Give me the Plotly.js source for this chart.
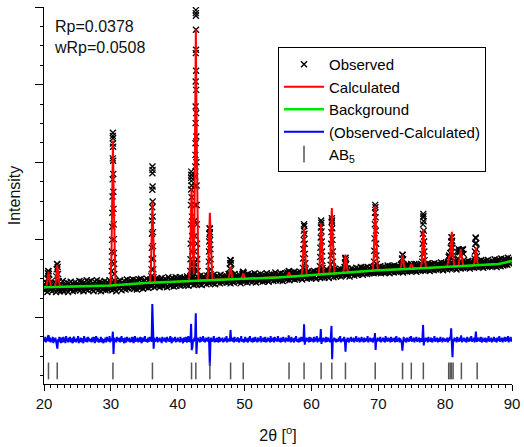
<!DOCTYPE html>
<html>
<head>
<meta charset="utf-8">
<script src="https://cdn.plot.ly/plotly-3.0.1.min.js"></script>
<style>html,body{margin:0;padding:0;background:#fff;}#chart{width:524px;height:447px;}</style>
</head>
<body>
<div id="chart"></div>
<script>
// ---- Observed pattern: background band, 0.1° grid from 20° to 90°
const obsGridStart = 20;
const obsGridStep = 0.1;
const obsBaseY = [
1420,1350,1400,1450,1370,1330,1410,1380,1440,1360,
1430,1370,1340,1420,1400,1360,1450,1390,1330,1420,
1410,1350,1460,1380,1340,1430,1390,1350,1470,1370,
1340,1420,1400,1360,1450,1380,1330,1440,1410,1360,
1460,1370,1400,1340,1430,1390,1450,1350,1420,1380,
1440,1360,1410,1470,1350,1400,1460,1370,1430,1340,
1450,1390,1420,1360,1480,1400,1350,1460,1420,1380,
1470,1400,1360,1440,1340,1390,1460,1420,1370,1480,
1430,1350,1410,1460,1380,1340,1450,1400,1360,1440,
1390,1470,1350,1420,1380,1450,1360,1410,1480,1370,
1440,1380,1350,1460,1400,1370,1470,1420,1340,1450,
1390,1460,1420,1370,1480,1400,1350,1450,1430,1380,
1470,1400,1360,1440,1490,1390,1450,1370,1420,1480,
1400,1460,1380,1490,1420,1370,1450,1400,1480,1360,
1460,1410,1490,1380,1440,1500,1400,1450,1370,1470,
1410,1480,1390,1450,1500,1420,1380,1470,1430,1490,
1400,1460,1510,1420,1480,1390,1450,1500,1410,1470,
1500,1420,1460,1390,1480,1430,1510,1410,1470,1400,
1440,1500,1420,1480,1390,1460,1520,1430,1490,1410,
1480,1420,1510,1440,1400,1490,1450,1520,1410,1470,
1430,1500,1450,1520,1410,1480,1440,1510,1470,1420,
1510,1440,1490,1420,1530,1460,1410,1500,1450,1520,
1440,1500,1460,1530,1420,1490,1450,1510,1430,1480,
1520,1450,1500,1430,1540,1470,1420,1510,1460,1530,
1450,1510,1470,1430,1540,1480,1520,1440,1500,1460,
1530,1460,1510,1440,1550,1480,1430,1520,1470,1540,
1460,1520,1480,1440,1550,1490,1530,1450,1510,1470,
1540,1470,1510,1450,1530,1490,1560,1460,1520,1440,
1480,1540,1460,1520,1450,1560,1490,1530,1470,1510,
1530,1460,1550,1490,1440,1520,1480,1560,1470,1510,
1460,1540,1490,1520,1450,1560,1480,1530,1470,1550,
1490,1550,1460,1530,1480,1570,1500,1450,1540,1510,
1550,1480,1520,1470,1560,1500,1540,1460,1530,1490,
1470,1540,1500,1570,1480,1520,1460,1550,1510,1490,
1560,1490,1530,1470,1550,1510,1580,1480,1540,1500,
1490,1560,1520,1480,1570,1510,1540,1470,1560,1530,
1500,1570,1530,1490,1580,1520,1560,1480,1550,1510,
1580,1500,1560,1520,1590,1490,1550,1530,1570,1510,
1500,1570,1540,1590,1510,1560,1490,1580,1530,1550,
1590,1520,1570,1500,1580,1540,1600,1510,1560,1530,
1510,1590,1550,1520,1600,1530,1570,1500,1580,1560,
1600,1530,1580,1510,1610,1550,1520,1590,1540,1570,
1520,1600,1560,1620,1530,1580,1510,1600,1550,1590,
1610,1540,1590,1520,1620,1560,1600,1530,1580,1550,
1540,1610,1570,1630,1530,1590,1550,1620,1560,1600,
1620,1550,1600,1540,1630,1570,1610,1530,1590,1560,
1560,1630,1580,1610,1540,1620,1570,1640,1550,1600,
1630,1560,1610,1580,1650,1570,1620,1550,1640,1590,
1570,1640,1600,1560,1650,1590,1630,1570,1620,1580,
1650,1580,1620,1570,1660,1600,1640,1580,1630,1610,
1580,1650,1600,1660,1570,1630,1590,1650,1580,1620,
1650,1580,1630,1600,1670,1590,1640,1570,1660,1610,
1590,1660,1620,1580,1670,1610,1650,1590,1640,1600,
1660,1590,1640,1610,1680,1600,1650,1580,1670,1620,
1600,1670,1620,1590,1680,1630,1660,1600,1650,1610,
1670,1600,1650,1610,1690,1620,1660,1590,1680,1630,
1610,1680,1630,1600,1690,1640,1670,1610,1660,1620,
1680,1610,1660,1620,1700,1630,1670,1600,1690,1640,
1620,1690,1640,1610,1700,1650,1680,1620,1670,1630,
1690,1620,1670,1630,1710,1640,1680,1610,1700,1650,
1630,1700,1650,1620,1710,1660,1690,1630,1680,1640,
1700,1630,1680,1640,1720,1650,1690,1620,1710,1660,
1640,1710,1660,1630,1720,1670,1700,1640,1690,1650,
1710,1640,1690,1650,1730,1660,1700,1630,1720,1670,
1650,1720,1670,1640,1730,1680,1710,1650,1700,1660,
1720,1650,1700,1660,1740,1670,1710,1640,1730,1680,
1660,1730,1680,1650,1740,1690,1720,1660,1710,1670,
1730,1660,1710,1670,1750,1680,1720,1650,1740,1690,
1670,1740,1690,1660,1760,1700,1730,1670,1750,1680,
1750,1690,1730,1680,1770,1710,1740,1690,1760,1720,
1730
];

// ---- Observed points on the Bragg peaks
const obsPeakX = [
20.47,20.53,20.59,20.63,20.69,20.73,20.79,20.85,
21.78,21.84,21.90,21.94,22.00,22.04,22.10,22.16,
30.13,30.15,30.17,30.19,30.21,30.23,30.25,30.27,30.29,30.30,30.305,30.31,30.32,30.33,30.34,30.36,30.38,30.40,30.42,30.44,30.46,30.48,30.51,
36.05,36.08,36.11,36.13,36.15,36.17,36.19,36.20,36.21,36.22,36.23,36.24,36.25,36.27,36.29,36.31,36.33,36.36,36.39,
41.88,41.91,41.94,41.97,41.99,42.01,42.02,42.03,42.04,42.05,42.07,42.09,42.12,42.15,42.18,42.21,42.25,42.30,42.36,42.42,
42.50,42.53,42.56,42.58,42.60,42.62,42.63,42.64,42.65,42.66,42.67,42.68,42.69,42.70,42.71,42.715,42.72,42.73,42.74,42.75,42.76,42.77,42.78,42.80,42.82,42.84,42.86,42.89,42.92,42.96,
44.62,44.65,44.68,44.71,44.74,44.77,44.80,44.83,44.86,44.89,44.92,44.96,
47.74,47.79,47.84,47.88,47.92,47.96,48.01,48.06,
49.68,49.75,49.80,49.86,49.92,
56.55,56.62,56.68,56.75,
58.72,58.76,58.80,58.84,58.87,58.90,58.93,58.96,59.00,59.04,59.08,59.12,
61.27,61.31,61.35,61.39,61.42,61.45,61.48,61.51,61.55,61.59,61.63,61.67,
62.87,62.91,62.95,62.99,63.02,63.05,63.08,63.11,63.15,63.19,63.23,63.27,
64.95,65.00,65.05,65.10,65.15,65.20,65.26,
69.36,69.40,69.44,69.48,69.51,69.54,69.57,69.60,69.64,69.68,69.72,69.76,
73.48,73.54,73.60,73.66,73.72,73.78,
74.85,74.92,74.99,75.05,
76.56,76.60,76.64,76.67,76.70,76.72,76.74,76.76,76.78,76.81,76.85,76.89,76.93,
80.45,80.52,80.60,80.68,80.76,80.84,80.90,80.95,81.00,81.05,81.10,81.16,81.22,
81.90,81.97,82.03,82.10,82.18,82.25,82.32,82.40,82.48,82.56,82.63,82.69,82.75,82.82,
84.40,84.45,84.50,84.55,84.60,84.65,84.70,84.76,84.82
];
const obsPeakY = [
1440,1500,1570,1600,1595,1560,1490,1440,
1450,1530,1620,1690,1685,1650,1560,1470,
1600,1720,1850,2000,2170,2350,2560,2780,3050,3240,3380,3340,3310,3200,3020,2850,2620,2400,2200,2010,1830,1690,1560,
1530,1620,1750,1900,2080,2250,2420,2645,2859,2945,2902,2687,2494,2300,2100,1920,1760,1620,1520,
1600,1750,1950,2200,2450,2650,2800,2880,2840,2760,2700,2550,2300,2050,1850,1700,1600,1580,1620,1660,
1700,1850,2050,2250,2450,2687,2816,2945,3095,3246,3504,3718,4040,4406,4921,4960,4887,4706,4449,4179,3933,3633,3331,3000,2700,2450,2200,1950,1750,1600,
1600,1720,1850,1980,2080,2151,2140,2100,2000,1880,1750,1620,
1560,1630,1700,1742,1735,1700,1620,1550,
1550,1580,1590,1575,1545,
1570,1600,1595,1565,
1640,1760,1880,2000,2120,2202,2180,2080,1950,1820,1700,1620,
1660,1780,1900,2030,2160,2249,2220,2110,1980,1850,1730,1640,
1680,1800,1950,2100,2230,2280,2250,2150,2000,1850,1720,1640,
1650,1710,1760,1770,1740,1690,1630,
1720,1860,2020,2200,2350,2451,2420,2290,2120,1950,1800,1690,
1690,1760,1810,1805,1750,1680,
1670,1690,1685,1660,
1720,1820,1950,2080,2200,2290,2335,2310,2240,2120,1980,1850,1740,
1720,1780,1800,1790,1830,1900,1980,2035,2030,1990,1900,1800,1730,
1760,1840,1880,1860,1840,1850,1870,1860,1860,1870,1880,1875,1820,1740,
1760,1850,1950,2030,2020,1960,1880,1790,1720
];

// ---- Calculated profile
const calcX = [
20.00,20.29,20.45,20.55,20.67,20.79,20.89,21.05,
21.60,21.76,21.86,21.98,22.10,22.20,22.36,
25.00,29.93,30.09,30.19,30.31,30.43,30.53,30.69,
33.00,35.84,36.00,36.10,36.22,36.34,36.44,36.60,
39.00,41.69,41.85,41.95,42.07,42.19,42.29,42.39,42.49,42.59,42.71,42.83,42.93,43.09,
44.43,44.59,44.69,44.81,44.93,45.03,45.19,
47.53,47.69,47.79,47.91,48.03,48.13,48.29,
49.42,49.58,49.68,49.80,49.92,50.02,50.18,
53.00,56.27,56.43,56.53,56.65,56.77,56.87,57.03,
58.52,58.68,58.78,58.90,59.02,59.12,59.28,
61.07,61.23,61.33,61.45,61.57,61.67,61.83,
62.67,62.83,62.93,63.05,63.17,63.27,63.43,
64.71,64.87,64.97,65.09,65.21,65.31,65.47,
67.00,69.16,69.32,69.42,69.54,69.66,69.76,69.92,
71.00,73.25,73.41,73.51,73.63,73.75,73.85,74.01,
74.56,74.72,74.82,74.94,75.06,75.16,75.32,
76.36,76.52,76.62,76.74,76.86,76.96,77.12,
79.00,80.25,80.42,80.52,80.62,80.74,80.84,80.92,81.00,81.10,81.20,81.36,
82.00,82.15,82.26,82.35,82.44,82.56,82.72,
84.22,84.38,84.48,84.60,84.72,84.82,84.98,
86.00,87.00,88.00,89.00,90.00
];
const calcY = [
1390,1391,1431,1510,1590,1510,1431,1392,
1394,1451,1566,1680,1566,1451,1395,
1400,1410,1786,2533,3280,2533,1786,1414,
1430,1447,1655,2075,2495,2075,1655,1450,
1458,1466,1709,2187,2665,2187,1709,1560,2120,3415,4710,3415,2120,1477,
1484,1657,2004,2350,2004,1657,1488,
1495,1526,1591,1655,1591,1526,1497,
1500,1513,1542,1570,1542,1513,1501,
1509,1524,1536,1558,1580,1558,1536,1528,
1537,1660,1905,2150,1905,1660,1541,
1552,1686,1951,2215,1951,1686,1557,
1561,1732,2071,2410,2071,1732,1566,
1573,1623,1716,1810,1716,1623,1578,
1589,1604,1773,2106,2440,2106,1773,1610,
1614,1623,1661,1736,1810,1736,1661,1626,
1628,1642,1666,1690,1666,1642,1631,
1635,1736,1933,2130,1933,1736,1638,
1646,1652,1700,1770,1800,1780,1830,1980,2105,1900,1740,1656,
1660,1730,1830,1880,1840,1740,1664,
1666,1712,1807,1900,1807,1712,1670,
1675,1680,1690,1708,1730
];

// ---- Background
const bgX = [20,25,30,35,40,45,50,55,60,65,70,75,80,85,88,89,90];
const bgY = [1390,1400,1412,1445,1465,1485,1500,1515,1545,1575,1610,1630,1650,1670,1690,1708,1730];

// ---- Difference (Observed - Calculated), offset, 0.1° grid
const diffY = [
730,690,750,680,720,700,760,770,690,740,
680,720,700,750,670,730,690,740,700,650,
600,720,690,750,700,670,740,710,680,750,
690,730,670,760,700,720,680,740,690,750,
680,730,700,670,740,750,690,720,680,730,
700,760,670,720,690,740,680,730,700,670,
760,700,720,690,740,680,750,700,730,690,
720,680,740,690,750,700,670,730,760,690,
740,700,680,720,690,750,680,730,700,670,
720,690,740,680,750,700,730,690,760,680,
730,700,720,818,531,740,690,720,680,750,
700,730,690,740,680,720,760,690,730,700,
670,740,710,680,750,700,730,690,740,680,
720,690,750,700,670,730,760,690,720,700,
740,680,730,690,750,700,670,740,710,690,
730,760,690,720,700,680,740,690,750,700,
720,690,1175,640,600,740,690,720,700,750,
680,730,700,740,690,720,670,750,700,730,
690,740,710,680,750,700,730,690,720,760,
700,670,740,690,730,700,750,680,720,690,
740,700,720,680,750,690,730,700,670,740,
710,690,750,700,680,730,760,690,720,680,
918,580,620,720,690,740,700,1055,531,690,
740,700,720,680,750,690,730,700,760,690,
720,680,740,700,730,690,750,680,376,700,
740,690,720,700,760,680,730,700,690,740,
700,680,750,720,690,730,700,740,680,720,
690,740,700,760,680,720,700,730,690,840,
700,730,690,740,680,750,700,720,690,730,
740,700,680,730,700,760,690,720,700,680,
720,750,690,730,700,680,740,700,760,690,
730,700,680,740,710,690,750,700,720,680,
740,690,730,700,760,680,720,700,740,690,
700,750,680,720,690,740,700,730,680,760,
690,720,700,740,680,750,700,730,690,720,
760,690,730,700,680,740,710,690,750,700,
720,680,740,700,730,690,770,700,720,680,
750,690,730,700,680,740,700,760,690,720,
700,680,740,710,690,750,700,730,690,914,
650,720,690,740,700,730,680,750,700,690,
740,700,720,680,750,690,730,700,760,680,
720,700,740,690,853,660,720,690,740,700,
730,680,750,700,690,740,700,720,680,750,
892,463,720,690,740,700,730,680,720,700,
690,740,700,760,680,720,700,730,690,750,
700,560,720,690,740,700,680,730,700,750,
690,720,700,740,680,730,700,760,690,720,
700,740,680,730,690,750,700,720,680,740,
700,690,730,700,760,680,720,700,740,690,
730,700,680,740,700,800,582,720,690,740,
700,730,690,750,680,720,700,740,690,730,
680,760,700,720,690,740,700,730,680,750,
700,690,730,700,740,680,720,760,690,720,
700,740,680,730,700,690,573,720,750,690,
730,700,680,740,700,720,690,750,700,760,
690,720,700,740,680,730,700,750,690,720,
700,740,680,730,700,690,720,905,640,720,
690,740,700,730,680,750,700,720,690,740,
700,680,730,700,760,690,720,700,740,680,
730,700,690,750,700,720,680,740,700,730,
690,720,700,740,680,730,700,750,720,862,
700,488,720,690,740,700,730,680,750,700,
720,690,740,700,770,680,720,700,740,690,
730,700,680,750,700,720,690,740,700,760,
690,720,700,740,680,730,818,700,690,740,
700,730,690,750,700,680,740,700,720,690,
740,700,680,730,700,760,690,720,700,740,
680,720,700,750,690,730,700,680,740,710,
700,760,690,720,700,740,680,730,700,750,
690,720,740,700,760,680,730,700,750,690,
720
];

// ---- AB5 reflection positions
const reflX = [20.67,21.98,30.31,36.22,42.07,42.71,44.81,47.91,49.80,56.65,58.90,61.45,63.05,65.09,69.54,73.63,74.94,76.74,80.53,80.75,80.95,81.19,82.43,84.79];

const tickRowLevel = 312;
const gridX = obsBaseY.map((_, i) => +(obsGridStart + obsGridStep * i).toFixed(2));
const diffX = diffY.map((_, i) => +(obsGridStart + obsGridStep * i).toFixed(2));

const font = "Arial, 'Liberation Sans', sans-serif";
const obsMarker = {symbol: 'x-thin-open', size: 6, color: '#000', line: {color: '#000', width: 1.4}};
const obsPeakMarker = {symbol: 'x-thin-open', size: 6, color: '#000', line: {color: '#000', width: 1.3}};

const traces = [
  {x: gridX, y: obsBaseY, type: 'scatter', mode: 'markers', name: 'Observed', marker: obsMarker},
  {x: obsPeakX, y: obsPeakY, type: 'scatter', mode: 'markers', name: 'Observed', showlegend: false, marker: obsPeakMarker},
  {x: calcX, y: calcY, type: 'scatter', mode: 'lines', name: 'Calculated', line: {color: '#ff0000', width: 2}},
  {x: bgX, y: bgY, type: 'scatter', mode: 'lines', name: 'Background', line: {color: '#00e600', width: 2.5}},
  {x: diffX, y: diffY, type: 'scatter', mode: 'lines', name: '(Observed-Calculated)', line: {color: '#0000ff', width: 2}},
  {x: reflX, y: reflX.map(() => tickRowLevel), type: 'scatter', mode: 'markers', name: 'AB<sub>5</sub>',
   marker: {symbol: 'line-ns-open', size: 12, color: '#555', line: {color: '#555', width: 1.5}}}
];

const layout = {
  width: 524, height: 447,
  margin: {l: 44, r: 12, t: 7, b: 63},
  paper_bgcolor: '#fff', plot_bgcolor: '#fff',
  font: {family: font, color: '#000', size: 15},
  showlegend: true,
  legend: {x: 0.5, y: 0.894, xanchor: 'left', yanchor: 'top', bgcolor: '#fff',
           bordercolor: '#000', borderwidth: 1, font: {family: font, size: 15, color: '#000'},
           itemwidth: 40, tracegroupgap: 0},
  xaxis: {range: [20, 90], dtick: 10, tick0: 20, ticks: 'outside', ticklen: 6, tickwidth: 1, tickcolor: '#000',
          showline: true, linecolor: '#000', linewidth: 1, showgrid: false, zeroline: false,
          minor: {dtick: 1, ticks: 'outside', ticklen: 3, tickcolor: '#000', showgrid: false},
          tickfont: {family: font, size: 15, color: '#111'},
          title: {text: '2θ [<sup>o</sup>]', font: {family: font, size: 16, color: '#111'}, standoff: 18}},
  yaxis: {range: [144, 5000], dtick: 1000, tick0: 0, ticks: 'outside', ticklen: 8, tickwidth: 1, tickcolor: '#000',
          showticklabels: false, showline: true, linecolor: '#000', linewidth: 1, showgrid: false, zeroline: false,
          minor: {dtick: 250, ticks: 'outside', ticklen: 3, tickcolor: '#000', showgrid: false},
          title: {text: 'Intensity', font: {family: font, size: 16, color: '#111'}, standoff: 10}},
  annotations: [{xref: 'paper', yref: 'paper', x: 0.017, y: 0.976, xanchor: 'left', yanchor: 'top', align: 'left',
                 showarrow: false, text: 'Rp=0.0378<br>wRp=0.0508', font: {family: font, size: 16, color: '#111'}}]
};

Plotly.newPlot('chart', traces, layout, {staticPlot: true, displayModeBar: false});
</script>
</body>
</html>
